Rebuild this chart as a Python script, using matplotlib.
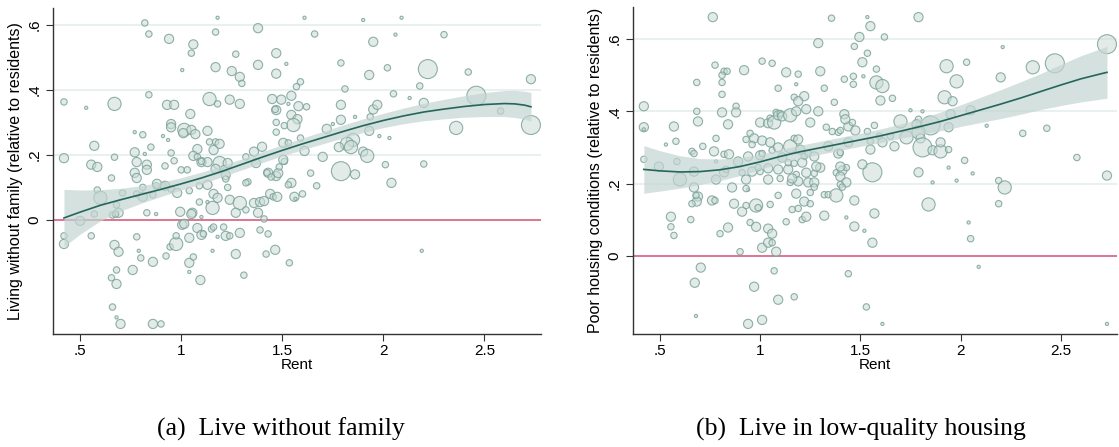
"""Rent vs. living conditions of migrants: two bubble scatters with local fit and CI band."""

import matplotlib

matplotlib.use("Agg")
import matplotlib.pyplot as plt
import numpy as np

plt.rcParams["font.family"] = ["Liberation Sans", "DejaVu Sans"]

# ---------------- panel (a): living without family ----------------
a_rent = [
    0.42, 0.82, 0.84, 0.94, 1.06, 1.05, 1.18, 1.17, 1.38, 1.27,
    1.38, 1.17, 1.25, 1.005, 1.29, 1.30, 1.47, 1.47, 0.84, 0.53,
    0.67, 0.93, 0.965, 1.045, 1.14, 1.18, 1.24, 1.29, 1.45, 1.47,
    0.77, 0.81, 0.95, 0.95, 0.91, 0.935, 1.015, 1.05, 1.01, 1.07,
    1.13, 0.57, 0.42, 0.67, 0.555, 0.585, 0.77, 0.82, 0.85, 0.78,
    0.83, 0.83, 0.92, 0.965, 0.95, 1.08, 1.06, 1.08, 1.10, 1.14,
    1.17, 1.19, 1.16, 1.19, 1.23, 1.17, 1.36, 1.40, 1.32, 1.37,
    1.43, 1.47, 1.61, 1.90, 2.09, 1.66, 2.06, 2.30, 1.95, 1.52,
    1.79, 1.93, 2.02, 2.22, 2.42, 2.73, 1.57, 1.59, 1.81, 2.05,
    2.13, 2.18, 2.20, 2.46, 2.58, 2.73, 2.36, 1.495, 1.545, 1.465,
    1.53, 1.58, 1.62, 1.545, 1.575, 1.555, 1.47, 1.47, 1.51, 1.79,
    1.86, 1.95, 1.97, 1.935, 1.79, 1.75, 1.72, 1.93, 1.98, 2.03,
    1.59, 1.505, 1.53, 1.61, 1.70, 1.85, 1.82, 1.84, 1.90, 1.92,
    1.78, 1.51, 1.79, 1.86, 1.64, 2.01, 2.20, 2.04, 1.545, 1.53,
    1.67, 1.56, 1.565, 1.60, 1.465, 1.535, 2.19, 0.42, 0.42, 0.50,
    0.555, 0.57, 0.585, 0.60, 0.67, 0.69, 0.68, 0.69, 0.66, 0.71,
    0.68, 0.655, 0.68, 0.66, 0.68, 0.70, 0.76, 0.78, 0.79, 0.80,
    0.78, 0.81, 0.83, 0.876, 0.86, 0.86, 0.90, 0.86, 0.876, 0.91,
    0.925, 0.945, 0.975, 0.975, 0.995, 1.005, 1.015, 1.04, 1.04, 1.06,
    1.095, 1.04, 1.08, 1.10, 1.11, 1.055, 1.10, 1.155, 1.15, 1.18,
    1.21, 1.22, 1.24, 1.155, 1.27, 1.29, 1.31, 1.39, 1.43, 1.42,
    1.09, 1.13, 1.09, 1.13, 1.16, 1.18, 1.24, 1.29, 1.27, 1.32,
    1.38, 1.41, 1.36, 1.39, 1.41, 1.33, 1.32, 1.48, 0.655, 0.77,
    0.78, 0.81, 0.88, 0.92, 0.95, 0.98, 1.04, 1.00, 1.03, 1.23,
    1.05, 0.675, 1.13, 1.10, 1.21, 1.22, 1.22, 1.44, 1.455, 1.475,
    1.425, 1.445, 1.505, 1.485, 1.16,
]
a_share = [
    0.363, 0.606, 0.572, 0.557, 0.54, 0.513, 0.622, 0.578, 0.59, 0.51,
    0.477, 0.47, 0.458, 0.461, 0.44, 0.42, 0.513, 0.45, 0.385, 0.345,
    0.357, 0.354, 0.354, 0.326, 0.372, 0.357, 0.37, 0.357, 0.372, 0.338,
    0.27, 0.262, 0.295, 0.285, 0.258, 0.246, 0.277, 0.277, 0.267, 0.264,
    0.274, 0.228, 0.19, 0.193, 0.17, 0.163, 0.208, 0.203, 0.224, 0.178,
    0.17, 0.154, 0.166, 0.182, 0.206, 0.218, 0.197, 0.194, 0.178, 0.24,
    0.24, 0.234, 0.215, 0.175, 0.175, 0.157, 0.21, 0.225, 0.194, 0.175,
    0.145, 0.135, 0.622, 0.615, 0.622, 0.572, 0.57, 0.57, 0.548, 0.48,
    0.483, 0.446, 0.468, 0.464, 0.455, 0.433, 0.41, 0.425, 0.403, 0.388,
    0.375, 0.412, 0.36, 0.382, 0.335, 0.292, 0.283, 0.37, 0.382, 0.34,
    0.357, 0.35, 0.348, 0.323, 0.31, 0.292, 0.30, 0.27, 0.29, 0.354,
    0.317, 0.34, 0.354, 0.317, 0.308, 0.295, 0.28, 0.274, 0.258, 0.252,
    0.252, 0.237, 0.237, 0.212, 0.194, 0.246, 0.234, 0.224, 0.21, 0.197,
    0.224, 0.18, 0.15, 0.14, 0.144, 0.17, 0.172, 0.114, 0.114, 0.108,
    0.105, 0.071, 0.065, 0.08, -0.092, -0.132, -0.095, -0.049, -0.074, -0.003,
    -0.049, 0.018, 0.092, 0.068, -0.077, -0.098, 0.046, 0.022, 0.015, 0.083,
    -0.154, -0.178, -0.197, -0.268, -0.30, -0.32, -0.154, -0.052, -0.095, -0.117,
    0.08, 0.071, 0.022, 0.018, -0.129, -0.32, -0.32, 0.077, 0.105, 0.105,
    -0.111, -0.083, -0.074, -0.049, 0.025, -0.015, -0.012, -0.132, -0.16, -0.114,
    -0.185, -0.055, -0.025, -0.046, -0.043, 0.022, 0.009, -0.095, -0.028, -0.052,
    -0.022, -0.049, -0.049, 0.037, -0.105, -0.04, -0.17, -0.031, -0.043, -0.105,
    0.055, 0.055, 0.105, 0.108, 0.08, 0.068, 0.062, 0.052, 0.022, 0.031,
    0.022, 0.003, 0.052, 0.055, 0.058, 0.117, 0.114, 0.144, 0.129, 0.145,
    0.129, 0.10, 0.111, 0.105, 0.095, 0.083, 0.09, 0.154, 0.154, 0.10,
    0.018, 0.018, 0.178, 0.18, 0.157, 0.138, 0.126, 0.08, 0.071, 0.071,
    0.145, 0.132, 0.185, 0.163, -0.022,
]
a_weight = [
    2, 2, 2, 3, 3, 2, 1, 2, 3, 2,
    3, 3, 3, 1, 3, 2, 3, 3, 2, 1,
    4, 3, 3, 3, 4, 2, 3, 3, 3, 3,
    1, 2, 3, 3, 1, 1, 4, 3, 3, 3,
    3, 3, 3, 2, 3, 3, 3, 1, 2, 3,
    3, 3, 2, 2, 2, 3, 3, 2, 3, 2,
    2, 3, 3, 4, 3, 3, 3, 3, 2, 3,
    3, 3, 1, 1, 1, 2, 1, 2, 3, 1,
    2, 3, 2, 5, 2, 3, 2, 2, 2, 2,
    1, 2, 3, 5, 2, 5, 4, 3, 3, 2,
    1, 3, 2, 3, 3, 4, 2, 2, 2, 3,
    1, 3, 3, 2, 3, 1, 3, 3, 1, 1,
    2, 3, 2, 3, 3, 4, 4, 4, 3, 4,
    3, 2, 5, 3, 2, 2, 2, 3, 3, 2,
    2, 3, 1, 2, 3, 2, 1, 2, 3, 3,
    2, 2, 2, 4, 3, 3, 2, 3, 2, 2,
    2, 2, 3, 2, 1, 3, 3, 2, 1, 2,
    2, 3, 2, 1, 3, 3, 2, 2, 2, 2,
    2, 2, 4, 2, 3, 3, 3, 3, 1, 2,
    3, 3, 3, 3, 2, 3, 1, 1, 2, 1,
    2, 3, 2, 4, 3, 3, 2, 2, 2, 2,
    2, 1, 2, 3, 3, 3, 3, 4, 3, 2,
    3, 2, 3, 3, 3, 2, 2, 3, 2, 3,
    3, 2, 3, 3, 2, 3, 2, 2, 2, 2,
    3, 2, 3, 2, 2, 3, 2, 3, 2, 3,
    2, 2, 3, 2, 2,
]
a_fit_x = [0.42, 0.5, 0.6, 0.7, 0.8, 0.9, 1.0, 1.1, 1.2, 1.3, 1.4, 1.5, 1.6,
           1.7, 1.8, 1.9, 2.0, 2.1, 2.2, 2.3, 2.4, 2.5, 2.6, 2.65, 2.7, 2.73]
a_fit_y = [0.006, 0.024, 0.045, 0.062, 0.078, 0.094, 0.111, 0.129, 0.149, 0.171,
           0.193, 0.214, 0.234, 0.253, 0.272, 0.29, 0.306, 0.32, 0.332, 0.341,
           0.349, 0.355, 0.358, 0.357, 0.353, 0.348]
a_fit_se = [0.088, 0.068, 0.048, 0.035, 0.027, 0.022, 0.019, 0.018, 0.017, 0.017,
            0.017, 0.017, 0.018, 0.019, 0.02, 0.021, 0.022, 0.024, 0.027, 0.03,
            0.033, 0.037, 0.04, 0.042, 0.043, 0.044]

# ---------------- panel (b): low-quality housing ----------------
b_rent = [
    0.764, 1.356, 1.29, 0.42, 0.42, 0.42, 0.42, 0.684, 0.684, 0.69,
    0.57, 0.58, 0.53, 0.495, 0.585, 0.66, 0.67, 0.714, 0.77, 0.78,
    0.78, 0.775, 0.82, 0.835, 0.81, 0.81, 0.81, 0.81, 0.84, 0.88,
    0.88, 0.92, 1.01, 1.06, 1.09, 1.13, 1.19, 1.18, 1.30, 1.32,
    1.42, 1.37, 1.00, 1.04, 1.05, 1.07, 1.08, 1.09, 1.10, 1.11,
    1.15, 1.18, 1.22, 1.23, 1.17, 1.19, 1.25, 1.29, 1.33, 1.36,
    1.42, 1.44, 1.39, 0.95, 0.93, 0.97, 0.96, 1.01, 1.05, 1.06,
    1.00, 1.01, 1.09, 1.15, 1.17, 1.19, 1.20, 1.22, 0.94, 0.82,
    0.845, 0.89, 0.67, 0.82, 0.91, 0.96, 1.00, 1.04, 1.09, 1.14,
    1.18, 1.23, 1.27, 1.30, 1.38, 1.41, 1.43, 1.11, 1.14, 1.17,
    1.21, 1.24, 1.27, 1.34, 1.39, 1.44, 0.60, 0.67, 0.69, 0.684,
    0.66, 0.78, 0.76, 0.775, 0.86, 0.93, 0.94, 0.87, 0.91, 0.93,
    0.98, 0.99, 1.05, 0.555, 0.555, 0.57, 0.654, 0.80, 0.84, 0.95,
    0.98, 0.90, 1.01, 1.04, 1.06, 1.04, 1.06, 1.08, 0.704, 0.674,
    0.68, 0.94, 1.01, 0.97, 1.07, 1.09, 1.17, 1.13, 1.16, 1.19,
    1.09, 1.15, 1.19, 1.24, 1.27, 1.18, 1.25, 1.22, 1.25, 1.21,
    1.23, 1.32, 1.32, 1.34, 1.38, 1.43, 1.44, 1.40, 1.43, 1.40,
    1.56, 1.79, 1.86, 1.98, 2.06, 2.19, 2.22, 2.19, 2.73, 1.47,
    1.47, 1.52, 1.56, 1.57, 1.84, 2.04, 2.05, 2.09, 1.53, 1.61,
    2.73, 1.41, 1.535, 1.55, 1.79, 1.495, 1.47, 1.62, 1.535, 1.51,
    1.58, 1.465, 1.465, 1.515, 1.58, 1.61, 1.60, 1.66, 1.93, 2.03,
    1.98, 1.92, 1.96, 2.05, 2.21, 2.20, 2.36, 2.47, 2.73, 1.75,
    1.81, 1.425, 1.46, 1.475, 1.40, 1.57, 1.535, 1.595, 1.61, 1.55,
    1.65, 1.67, 1.70, 1.73, 1.79, 1.78, 1.85, 1.79, 1.80, 1.81,
    1.86, 1.90, 1.94, 1.90, 1.94, 1.95, 2.13, 2.31, 2.43, 2.58,
    1.55, 1.51, 1.40, 1.94, 2.02, 0.83, 0.99, 1.04, 1.10, 1.16,
    1.28, 1.40, 0.93, 1.27, 0.68,
]
b_share = [
    0.661, 0.658, 0.589, 0.414, 0.356, 0.35, 0.267, 0.48, 0.40, 0.372,
    0.358, 0.317, 0.308, 0.247, 0.261, 0.289, 0.283, 0.303, 0.289, 0.325,
    0.261, 0.528, 0.511, 0.511, 0.50, 0.48, 0.447, 0.397, 0.364, 0.414,
    0.397, 0.514, 0.539, 0.533, 0.464, 0.508, 0.503, 0.475, 0.511, 0.464,
    0.489, 0.425, 0.369, 0.367, 0.381, 0.369, 0.397, 0.389, 0.394, 0.386,
    0.389, 0.40, 0.442, 0.406, 0.439, 0.428, 0.369, 0.40, 0.356, 0.344,
    0.392, 0.358, 0.342, 0.339, 0.322, 0.325, 0.308, 0.319, 0.314, 0.292,
    0.278, 0.283, 0.30, 0.303, 0.325, 0.322, 0.294, 0.275, 0.275, 0.281,
    0.281, 0.261, 0.233, 0.231, 0.23, 0.233, 0.233, 0.242, 0.239, 0.239,
    0.225, 0.23, 0.228, 0.244, 0.23, 0.236, 0.244, 0.272, 0.258, 0.256,
    0.258, 0.283, 0.275, 0.303, 0.283, 0.314, 0.211, 0.189, 0.164, 0.15,
    0.144, 0.211, 0.153, 0.153, 0.189, 0.211, 0.183, 0.144, 0.122, 0.139,
    0.139, 0.133, 0.142, 0.108, 0.08, 0.056, 0.10, 0.061, 0.078, 0.092,
    0.08, 0.011, 0.022, 0.036, 0.036, 0.075, 0.061, 0.011, -0.033, -0.075,
    -0.167, -0.189, -0.178, -0.086, -0.042, -0.122, -0.114, 0.094, 0.128, 0.131,
    0.167, 0.203, 0.206, 0.203, 0.203, 0.172, 0.175, 0.15, 0.144, 0.10,
    0.108, 0.111, 0.169, 0.169, 0.167, 0.106, -0.05, 0.219, 0.203, 0.197,
    0.231, 0.231, 0.203, 0.208, 0.228, 0.208, 0.189, 0.144, 0.222, 0.153,
    0.081, 0.069, 0.036, 0.117, 0.142, 0.092, 0.047, -0.031, -0.142, -0.189,
    -0.189, 0.19, 0.661, 0.636, 0.661, 0.606, 0.58, 0.606, 0.561, 0.536,
    0.517, 0.497, 0.475, 0.497, 0.48, 0.47, 0.43, 0.436, 0.525, 0.536,
    0.483, 0.439, 0.428, 0.403, 0.578, 0.494, 0.522, 0.533, 0.586, 0.403,
    0.40, 0.378, 0.369, 0.347, 0.347, 0.361, 0.344, 0.331, 0.314, 0.317,
    0.331, 0.303, 0.372, 0.328, 0.378, 0.364, 0.361, 0.342, 0.325, 0.30,
    0.292, 0.289, 0.294, 0.314, 0.356, 0.392, 0.36, 0.339, 0.353, 0.272,
    0.294, 0.253, 0.286, 0.244, 0.264, 0.239, 0.244, 0.211, 0.214, 0.214,
    0.247, 0.247, 0.186, 0.19, 0.167,
]
b_weight = [
    3, 2, 3, 3, 3, 1, 2, 2, 2, 3,
    3, 2, 1, 3, 2, 2, 2, 2, 3, 2,
    1, 2, 2, 2, 2, 2, 2, 3, 3, 2,
    3, 3, 2, 2, 2, 3, 2, 1, 3, 2,
    2, 2, 3, 3, 2, 4, 2, 3, 2, 3,
    4, 3, 3, 3, 2, 3, 3, 3, 2, 2,
    3, 3, 2, 2, 2, 3, 2, 3, 3, 2,
    3, 2, 3, 4, 2, 3, 3, 2, 3, 2,
    3, 3, 3, 3, 2, 3, 2, 3, 3, 3,
    2, 3, 2, 3, 2, 3, 2, 3, 2, 2,
    3, 2, 3, 3, 3, 3, 4, 3, 3, 3,
    2, 3, 3, 2, 3, 3, 1, 3, 3, 2,
    4, 2, 2, 3, 2, 2, 2, 2, 3, 2,
    3, 2, 3, 3, 2, 3, 3, 3, 3, 3,
    1, 3, 3, 3, 2, 3, 2, 2, 2, 2,
    2, 2, 3, 3, 3, 3, 2, 3, 2, 2,
    3, 3, 2, 2, 4, 1, 2, 3, 3, 2,
    5, 3, 1, 1, 1, 2, 4, 2, 3, 3,
    3, 1, 3, 3, 4, 1, 2, 1, 2, 1,
    1, 2, 1, 3, 3, 3, 2, 2, 2, 3,
    2, 2, 2, 1, 4, 4, 3, 2, 4, 2,
    4, 4, 3, 3, 1, 3, 4, 5, 5, 1,
    1, 3, 2, 3, 2, 2, 2, 2, 3, 2,
    2, 3, 4, 4, 2, 3, 5, 4, 3, 5,
    3, 4, 2, 3, 3, 3, 1, 2, 2, 2,
    3, 3, 2, 1, 2, 2, 2, 3, 2, 3,
    3, 3, 2, 2, 2,
]
b_fit_x = [0.42, 0.5, 0.6, 0.7, 0.8, 0.9, 1.0, 1.1, 1.2, 1.3, 1.4, 1.5, 1.6,
           1.7, 1.8, 1.9, 2.0, 2.1, 2.2, 2.3, 2.4, 2.5, 2.6, 2.7, 2.73]
b_fit_y = [0.239, 0.235, 0.232, 0.233, 0.238, 0.247, 0.26, 0.275, 0.288, 0.299,
           0.31, 0.321, 0.332, 0.345, 0.358, 0.372, 0.388, 0.404, 0.42, 0.437,
           0.455, 0.473, 0.49, 0.504, 0.508]
b_fit_se = [0.066, 0.056, 0.045, 0.036, 0.03, 0.025, 0.021, 0.019, 0.018, 0.018,
            0.018, 0.018, 0.019, 0.02, 0.022, 0.026, 0.03, 0.035, 0.04, 0.045,
            0.05, 0.057, 0.064, 0.07, 0.072]

RENT_TICKS = [0.5, 1, 1.5, 2, 2.5]
RENT_LABELS = [".5", "1", "1.5", "2", "2.5"]
SHARE_TICKS = [0, 0.2, 0.4, 0.6]
SHARE_LABELS = ["0", ".2", ".4", ".6"]

PANELS = [
    dict(x=a_rent, y=a_share, w=a_weight, fx=a_fit_x, fy=a_fit_y, se=a_fit_se,
         ylabel="Living without family (relative to residents)",
         caption="(a)  Live without family", cap_x=0.251,
         ylim=(-0.351, 0.652), rect=[0.0474, 0.2528, 0.4361, 0.7293]),
    dict(x=b_rent, y=b_share, w=b_weight, fx=b_fit_x, fy=b_fit_y, se=b_fit_se,
         ylabel="Poor housing conditions (relative to residents)",
         caption="(b)  Live in low-quality housing", cap_x=0.769,
         ylim=(-0.217, 0.689), rect=[0.5657, 0.2528, 0.4325, 0.7315]),
]

RADIUS_PX = {1: 1.6, 2: 3.2, 3: 4.6, 4: 6.6, 5: 9.5}
FACE = (0.80, 0.86, 0.84, 0.55)
EDGE = (0.48, 0.64, 0.60, 0.85)
LINE = "#25665b"
BAND = "#c3d5d0"
ZERO = "#dd7690"
GRID = "#e7f0ef"

fig = plt.figure(figsize=(11.19, 4.47), dpi=100)

for p in PANELS:
    ax = fig.add_axes(p["rect"])
    sizes = [(2 * RADIUS_PX[w] * 0.72) ** 2 for w in p["w"]]
    ax.scatter(p["x"], p["y"], s=sizes, facecolor=FACE, edgecolor=EDGE,
               linewidth=0.8, zorder=2)

    fx = np.array(p["fx"])
    fy = np.array(p["fy"])
    se = np.array(p["se"])
    ax.fill_between(fx, fy - se, fy + se, color=BAND, alpha=0.7, lw=0, zorder=3)
    ax.plot(fx, fy, color=LINE, lw=1.2, zorder=4)

    ax.axhline(0, color=ZERO, lw=1.4, zorder=1)
    for t in SHARE_TICKS[1:]:
        ax.axhline(t, color=GRID, lw=1.3, zorder=0)

    ax.set_xlim(0.366, 2.78)
    ax.set_ylim(*p["ylim"])
    ax.set_xticks(RENT_TICKS, RENT_LABELS)
    ax.set_yticks(SHARE_TICKS, SHARE_LABELS)
    ax.tick_params(axis="y", labelrotation=90, labelsize=11, length=5, color="#333333")
    ax.tick_params(axis="x", labelsize=11, length=5, color="#333333", pad=2)
    for lab in ax.get_yticklabels():
        lab.set_va("center")
    for side in ("top", "right"):
        ax.spines[side].set_visible(False)
    for side in ("left", "bottom"):
        ax.spines[side].set_color("#333333")
        ax.spines[side].set_linewidth(1.0)
    ax.set_xlabel("Rent", fontsize=11, labelpad=0)
    ax.set_ylabel(p["ylabel"], fontsize=11.5, labelpad=3)

    fig.text(p["cap_x"], 0.04, p["caption"], ha="center", va="center",
             fontsize=18.5, family=["Liberation Serif", "DejaVu Serif"])

fig.savefig("out.png", dpi=100)
